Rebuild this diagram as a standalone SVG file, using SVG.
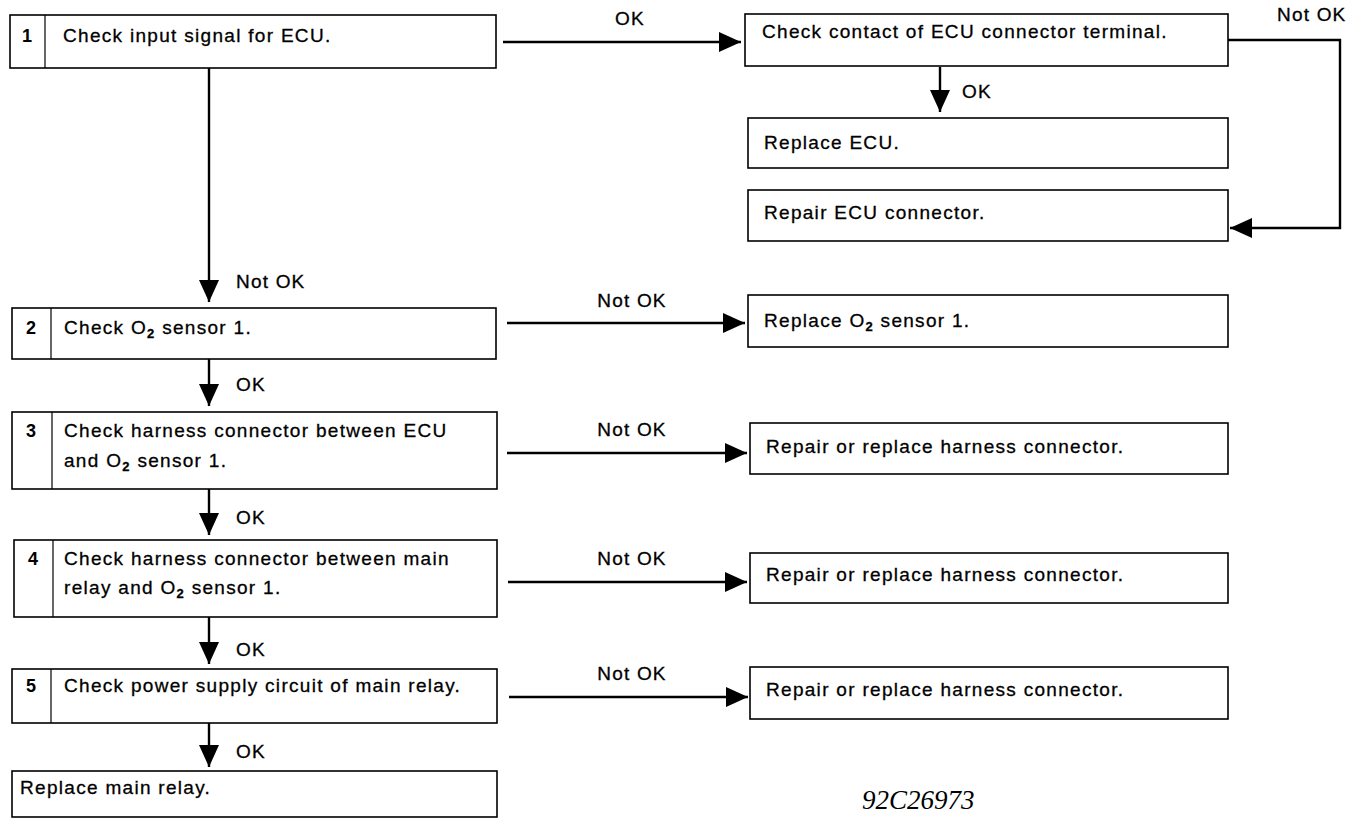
<svg xmlns="http://www.w3.org/2000/svg" width="1352" height="828" viewBox="0 0 1352 828">
  <style>
    .box { fill: #fff; stroke: #000; stroke-width: 1.6; }
    .div { stroke: #000; stroke-width: 1.2; }
    .t { font-family: "Liberation Sans", Arial, sans-serif; font-size: 19px; letter-spacing: 1.3px; fill: #000; stroke: #000; stroke-width: 0.3; }
    .n { font-family: "Liberation Sans", Arial, sans-serif; font-size: 18px; font-weight: bold; fill: #000; text-anchor: middle; }
    .lbl { font-family: "Liberation Sans", Arial, sans-serif; font-size: 19px; letter-spacing: 1.2px; fill: #000; stroke: #000; stroke-width: 0.3; }
    .sub { font-size: 13px; font-weight: bold; }
    .ln { fill: none; stroke: #000; stroke-width: 2.4; }
    .code { font-family: "Liberation Serif", "Times New Roman", serif; font-style: italic; font-size: 27px; fill: #000; }
  </style>
  <defs>
    <marker id="ah" viewBox="0 0 22 20" refX="22" refY="10" markerWidth="22" markerHeight="20" markerUnits="userSpaceOnUse" orient="auto">
      <path d="M0,0 L22,10 L0,20 Z" fill="#000"/>
    </marker>
  </defs>
  <rect width="1352" height="828" fill="#fff"/>

  <!-- connectors and their labels -->
  <g id="connectors">
    <line class="ln" x1="503" y1="42" x2="741" y2="42" marker-end="url(#ah)"/>
    <path class="ln" d="M1228,40 H1340 V228 H1230" marker-end="url(#ah)"/>
    <line class="ln" x1="940" y1="67" x2="940" y2="112" marker-end="url(#ah)"/>
    <line class="ln" x1="209" y1="68" x2="209" y2="302" marker-end="url(#ah)"/>
    <line class="ln" x1="507" y1="323" x2="745" y2="323" marker-end="url(#ah)"/>
    <line class="ln" x1="209" y1="359" x2="209" y2="406" marker-end="url(#ah)"/>
    <line class="ln" x1="507" y1="453" x2="747" y2="453" marker-end="url(#ah)"/>
    <line class="ln" x1="209" y1="489" x2="209" y2="535" marker-end="url(#ah)"/>
    <line class="ln" x1="508" y1="582" x2="747" y2="582" marker-end="url(#ah)"/>
    <line class="ln" x1="209" y1="617" x2="209" y2="664" marker-end="url(#ah)"/>
    <line class="ln" x1="509" y1="697" x2="748" y2="697" marker-end="url(#ah)"/>
    <line class="ln" x1="209" y1="723" x2="209" y2="767" marker-end="url(#ah)"/>

    <text class="lbl" x="630" y="25" text-anchor="middle">OK</text>
    <text class="lbl" x="1277" y="21">Not OK</text>
    <text class="lbl" x="962" y="98">OK</text>
    <text class="lbl" x="236" y="288">Not OK</text>
    <text class="lbl" x="632" y="307" text-anchor="middle">Not OK</text>
    <text class="lbl" x="236" y="391">OK</text>
    <text class="lbl" x="632" y="436" text-anchor="middle">Not OK</text>
    <text class="lbl" x="236" y="524">OK</text>
    <text class="lbl" x="632" y="565" text-anchor="middle">Not OK</text>
    <text class="lbl" x="236" y="656">OK</text>
    <text class="lbl" x="632" y="680" text-anchor="middle">Not OK</text>
    <text class="lbl" x="236" y="758">OK</text>
  </g>

  <g id="step1">
    <rect class="box" x="10" y="15" width="486" height="53"/>
    <line class="div" x1="45" y1="15" x2="45" y2="68"/>
    <text class="n" x="27" y="42">1</text>
    <text class="t" x="63" y="42">Check input signal for ECU.</text>
  </g>

  <g id="check-contact">
    <rect class="box" x="745" y="14" width="483" height="52"/>
    <text class="t" x="762" y="38">Check contact of ECU connector terminal.</text>
  </g>

  <g id="replace-ecu">
    <rect class="box" x="748" y="118" width="480" height="50"/>
    <text class="t" x="764" y="149">Replace ECU.</text>
  </g>

  <g id="repair-ecu-connector">
    <rect class="box" x="748" y="190" width="480" height="51"/>
    <text class="t" x="764" y="219">Repair ECU connector.</text>
  </g>

  <g id="step2">
    <rect class="box" x="12" y="308" width="484" height="51"/>
    <line class="div" x1="51" y1="308" x2="51" y2="359"/>
    <text class="n" x="31" y="334">2</text>
    <text class="t" x="64" y="334">Check O<tspan class="sub" dy="4">2</tspan><tspan dy="-4"> sensor 1.</tspan></text>
  </g>

  <g id="replace-o2">
    <rect class="box" x="748" y="295" width="480" height="52"/>
    <text class="t" x="764" y="327">Replace O<tspan class="sub" dy="4">2</tspan><tspan dy="-4"> sensor 1.</tspan></text>
  </g>

  <g id="step3">
    <rect class="box" x="12" y="412" width="485" height="77"/>
    <line class="div" x1="52" y1="412" x2="52" y2="489"/>
    <text class="n" x="31" y="437">3</text>
    <text class="t" x="64" y="437">Check harness connector between ECU</text>
    <text class="t" x="64" y="467">and O<tspan class="sub" dy="4">2</tspan><tspan dy="-4"> sensor 1.</tspan></text>
  </g>

  <g id="repair-harness-3">
    <rect class="box" x="750" y="423" width="478" height="51"/>
    <text class="t" x="766" y="453">Repair or replace harness connector.</text>
  </g>

  <g id="step4">
    <rect class="box" x="14" y="540" width="483" height="77"/>
    <line class="div" x1="53" y1="540" x2="53" y2="617"/>
    <text class="n" x="33" y="565">4</text>
    <text class="t" x="64" y="565">Check harness connector between main</text>
    <text class="t" x="64" y="594">relay and O<tspan class="sub" dy="4">2</tspan><tspan dy="-4"> sensor 1.</tspan></text>
  </g>

  <g id="repair-harness-4">
    <rect class="box" x="750" y="553" width="478" height="50"/>
    <text class="t" x="766" y="581">Repair or replace harness connector.</text>
  </g>

  <g id="step5">
    <rect class="box" x="12" y="669" width="485" height="54"/>
    <line class="div" x1="51" y1="669" x2="51" y2="723"/>
    <text class="n" x="31" y="692">5</text>
    <text class="t" x="64" y="692">Check power supply circuit of main relay.</text>
  </g>

  <g id="repair-harness-5">
    <rect class="box" x="750" y="667" width="478" height="52"/>
    <text class="t" x="766" y="696">Repair or replace harness connector.</text>
  </g>

  <g id="replace-main-relay">
    <rect class="box" x="12" y="771" width="485" height="46"/>
    <text class="t" x="20" y="794">Replace main relay.</text>
  </g>

  <text class="code" x="862" y="809">92C26973</text>
</svg>
